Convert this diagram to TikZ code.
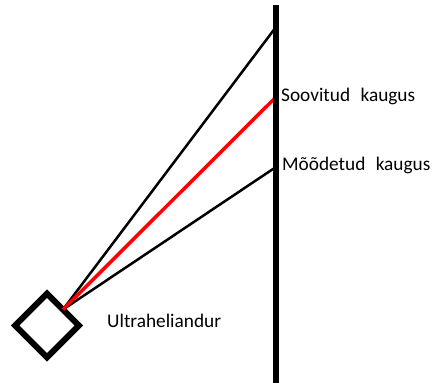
\documentclass[tikz,border=0pt]{standalone}
\usepackage{fontspec}
\setmainfont{Carlito}
\begin{document}
\begin{tikzpicture}[x=1pt,y=1pt,
  ray/.style={line width=2.5pt},
  redray/.style={line width=3.5pt, draw=red},
  lbl/.style={anchor=west, inner sep=0pt, font=\fontsize{19.3}{23}\selectfont}]
\useasboundingbox (0,0) rectangle (432,383);
\node[draw, line width=6pt, rectangle, minimum size=45pt, inner sep=0pt, outer sep=0pt, rotate=45] (sensor) at (47,57.5) {};
\coordinate (wt) at (276,378);
\coordinate (wb) at (276,0);
\coordinate (top) at (276,356);
\coordinate (rec) at (276,286);
\coordinate (meas) at (276,216);
\draw[ray] (sensor.east) -- (top);
\draw[ray] (sensor.east) -- (meas);
\draw[redray] (sensor.east) -- (rec);
\draw[line width=6.5pt] (wt) -- (wb);
\node[lbl] (soov) at (281,287) {Soovitud\hspace{6pt} kaugus};
\node[lbl] (mood) at (282,218) {Mõõdetud\hspace{6pt} kaugus};
\node[lbl] (ultra) at (107,62) {Ultraheliandur};
\end{tikzpicture}
\end{document}
